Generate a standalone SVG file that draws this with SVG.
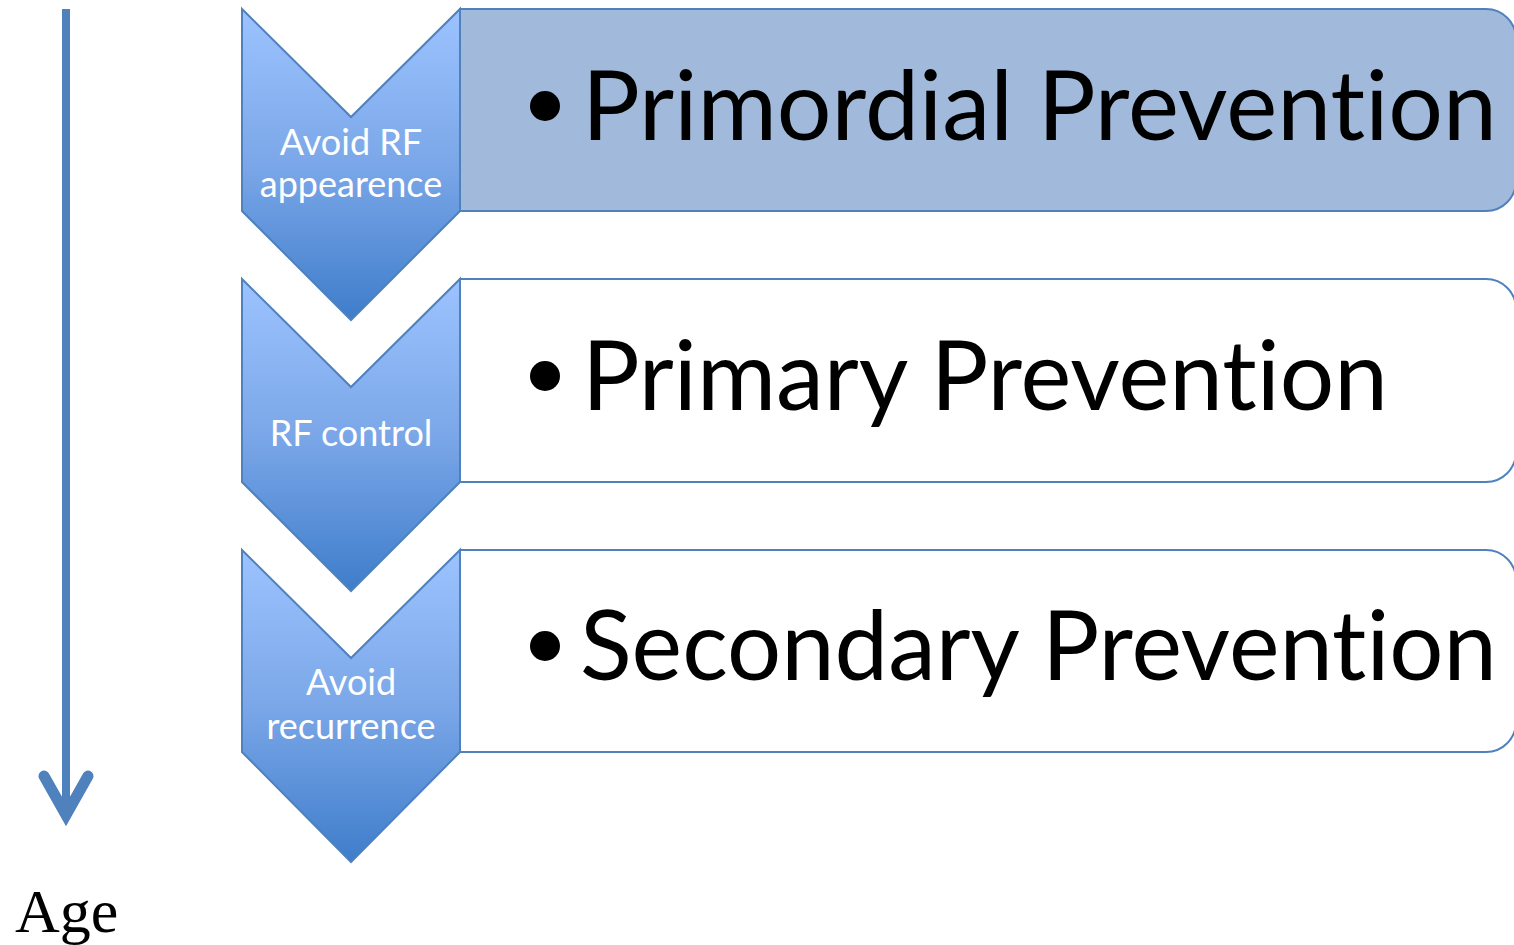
<svg xmlns="http://www.w3.org/2000/svg" width="1514" height="945" viewBox="0 0 1514 945">
  <style>
    .chev { fill: url(#chevFill); stroke: #4F81BD; stroke-width: 2; }
    .box { stroke: #4F81BD; stroke-width: 2; }
    .lbl { font-family: Lato, "Open Sans", "Liberation Sans", sans-serif; font-size: 36px; fill: #FFFFFF; text-anchor: middle; font-variant-ligatures: none; }
    .big { font-family: Lato, "Open Sans", "Liberation Sans", sans-serif; font-size: 96px; fill: #000000; font-variant-ligatures: none; }
    .age { font-family: "Liberation Serif", "Times New Roman", serif; font-size: 62px; fill: #000000; }
  </style>
  <defs>
    <linearGradient id="chevFill" x1="0" y1="0" x2="0" y2="1">
      <stop offset="0" stop-color="#9CC3FF"/>
      <stop offset="0.5" stop-color="#7BA7E8"/>
      <stop offset="1" stop-color="#3E7DCB"/>
    </linearGradient>
  </defs>

  <!-- timeline axis -->
  <g id="connectors">
    <line x1="66" y1="9" x2="66" y2="812" stroke="#4F81BD" stroke-width="8"/>
    <path d="M44,776 L66,815 L88,776" fill="none" stroke="#4F81BD" stroke-width="11" stroke-linecap="round" stroke-linejoin="miter"/>
  </g>

  <!-- stage 1 -->
  <g id="stage-primordial">
    <path class="box" fill="#A1B9DA" d="M460,9 H1486 A30,30 0 0 1 1516,39 V181 A30,30 0 0 1 1486,211 H460 Z"/>
    <path class="chev" d="M242,9 L351,117 L460,9 V211 L351,320 L242,211 Z"/>
    <text class="lbl" x="351" y="155">Avoid RF</text>
    <text class="lbl" x="351" y="197">appearence</text>
    <circle cx="545" cy="106" r="15" fill="#000"/>
    <text class="big" x="582" y="140" textLength="915" lengthAdjust="spacingAndGlyphs">Primordial Prevention</text>
  </g>

  <!-- stage 2 -->
  <g id="stage-primary">
    <path class="box" fill="#FFFFFF" d="M460,279 H1486 A30,30 0 0 1 1516,309 V452 A30,30 0 0 1 1486,482 H460 Z"/>
    <path class="chev" d="M242,279 L351,387 L460,279 V482 L351,591 L242,482 Z"/>
    <text class="lbl" x="351" y="446">RF control</text>
    <circle cx="545" cy="376" r="15" fill="#000"/>
    <text class="big" x="582" y="410" textLength="806" lengthAdjust="spacingAndGlyphs">Primary Prevention</text>
  </g>

  <!-- stage 3 -->
  <g id="stage-secondary">
    <path class="box" fill="#FFFFFF" d="M460,550 H1486 A30,30 0 0 1 1516,580 V722 A30,30 0 0 1 1486,752 H460 Z"/>
    <path class="chev" d="M242,550 L351,658 L460,550 V752 L351,862 L242,752 Z"/>
    <text class="lbl" x="351" y="695">Avoid</text>
    <text class="lbl" x="351" y="739">recurrence</text>
    <circle cx="545" cy="646" r="15" fill="#000"/>
    <text class="big" x="580" y="680" textLength="917" lengthAdjust="spacingAndGlyphs">Secondary Prevention</text>
  </g>

  <g id="axis-label">
    <text class="age" x="15" y="932">Age</text>
  </g>
</svg>
